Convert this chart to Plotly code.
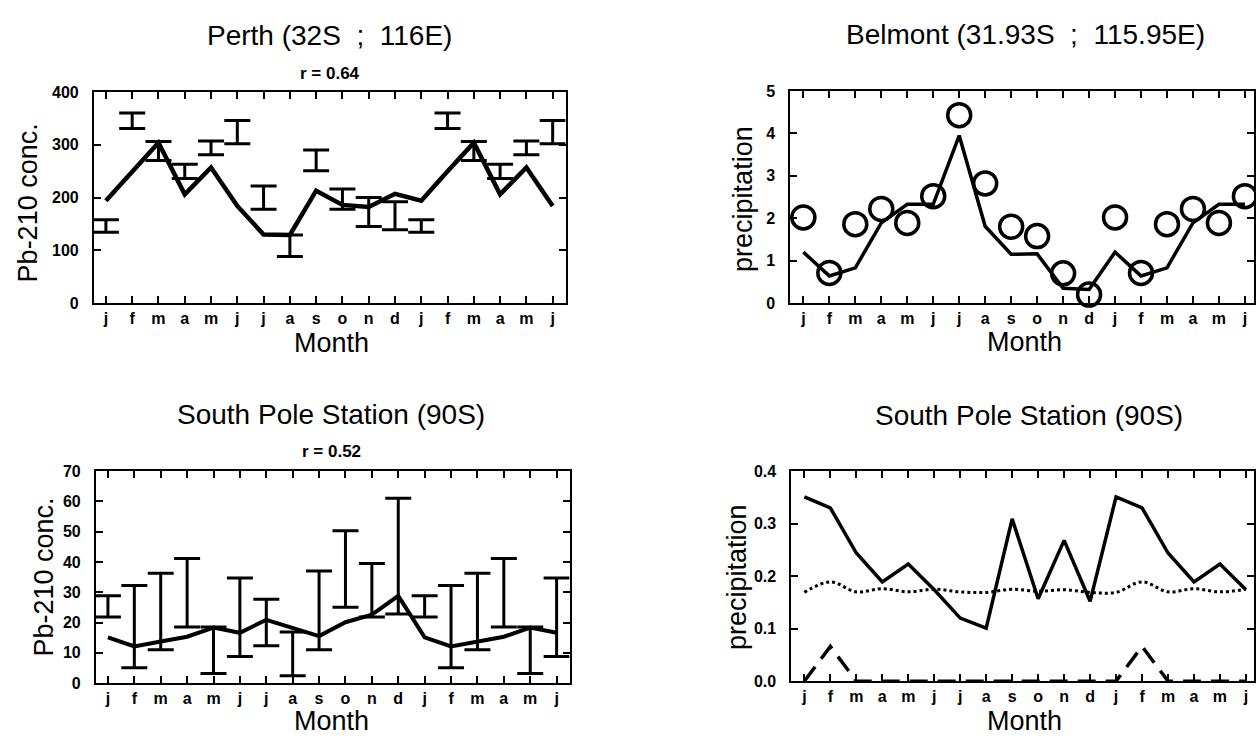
import plotly.graph_objects as go

W, H = 1256, 738
FONT = "Liberation Sans, Arial, Helvetica, sans-serif"

months = ["j", "f", "m", "a", "m", "j", "j", "a", "s", "o", "n", "d",
          "j", "f", "m", "a", "m", "j"]
month_pos = list(range(1, 19))

# Perth Pb-210 (model line + observed range bars)
perth_model = [194, 250, 304, 206, 257, 184, 130, 129, 213, 186, 182, 207,
               194, 250, 304, 206, 257, 184]
perth_low = [134, 331, 270, 236, 281, 302, 178, 88, 251, 178, 145, 139,
             134, 331, 270, 236, 281, 302]
perth_high = [158, 360, 306, 263, 307, 346, 222, 129, 290, 216, 200, 192,
              158, 360, 306, 263, 307, 346]

# Belmont precipitation (observed circles + model line)
belmont_obs = [2.02, 0.71, 1.86, 2.22, 1.89, 2.52, 4.43, 2.82, 1.80, 1.58, 0.70, 0.20,
               2.02, 0.71, 1.86, 2.22, 1.89, 2.52]
belmont_model = [1.20, 0.64, 0.83, 1.89, 2.33, 2.33, 3.95, 1.81, 1.15, 1.16, 0.35, 0.32,
                 1.20, 0.64, 0.83, 1.89, 2.33, 2.33]

# South Pole Pb-210
sp_model = [15.1, 12.1, 13.7, 15.3, 18.3, 16.6, 20.9, 18.2, 15.5, 20.1, 22.6, 28.8,
            15.1, 12.1, 13.7, 15.3, 18.3, 16.6]
sp_low = [21.8, 5.1, 11.0, 18.5, 3.2, 8.8, 12.3, 2.4, 11.0, 25.0, 21.8, 22.8,
          21.8, 5.1, 11.0, 18.5, 3.2, 8.8]
sp_high = [28.8, 32.2, 36.3, 41.1, 18.5, 34.7, 27.7, 16.9, 37.0, 50.3, 39.5, 61.0,
           28.8, 32.2, 36.3, 41.1, 18.5, 34.7]

# South Pole precipitation
sp_prec_solid = [0.351, 0.330, 0.244, 0.189, 0.223, 0.174, 0.120, 0.101, 0.309, 0.157, 0.268, 0.152,
                 0.351, 0.330, 0.244, 0.189, 0.223, 0.174]
sp_prec_dot = [0.169, 0.189, 0.170, 0.176, 0.170, 0.175, 0.170, 0.169, 0.175, 0.171, 0.174, 0.169,
               0.169, 0.189, 0.170, 0.176, 0.170, 0.175]
sp_prec_dash = [0.0, 0.066, 0.0, 0.0, 0.0, 0.0, 0.0, 0.0, 0.0, 0.0, 0.0, 0.0,
                0.0, 0.066, 0.0, 0.0, 0.0, 0.0]


def fx(p):
    return p / W


def fy(p):
    return 1 - p / H


fig = go.Figure()


def err_trace(xa, ya, low, high, width):
    mid = [(a + b) / 2 for a, b in zip(low, high)]
    up = [b - m for b, m in zip(high, mid)]
    dn = [m - a for a, m in zip(low, mid)]
    return go.Scatter(x=month_pos, y=mid, mode="markers", xaxis=xa, yaxis=ya,
                      marker=dict(size=2, color="rgba(0,0,0,0)"),
                      error_y=dict(type="data", symmetric=False, array=up, arrayminus=dn,
                                   color="black", thickness=3, width=width),
                      showlegend=False, hoverinfo="skip")


# Top-left
fig.add_trace(err_trace("x", "y", perth_low, perth_high, 13))
fig.add_trace(go.Scatter(x=month_pos, y=perth_model, mode="lines", xaxis="x", yaxis="y",
                         line=dict(color="black", width=4.5), showlegend=False))
# Top-right
fig.add_trace(go.Scatter(x=month_pos, y=belmont_model, mode="lines", xaxis="x2", yaxis="y2",
                         line=dict(color="black", width=3.5), showlegend=False, cliponaxis=False))
fig.add_trace(go.Scatter(x=month_pos, y=belmont_obs, mode="markers", xaxis="x2", yaxis="y2",
                         marker=dict(symbol="circle-open", size=23, color="black",
                                     line=dict(width=3.5, color="black")),
                         showlegend=False, cliponaxis=False))
# Bottom-left
fig.add_trace(err_trace("x3", "y3", sp_low, sp_high, 13))
fig.add_trace(go.Scatter(x=month_pos, y=sp_model, mode="lines", xaxis="x3", yaxis="y3",
                         line=dict(color="black", width=4), showlegend=False))
# Bottom-right
fig.add_trace(go.Scatter(x=month_pos, y=sp_prec_solid, mode="lines", xaxis="x4", yaxis="y4",
                         line=dict(color="black", width=3.5), showlegend=False, cliponaxis=False))
fig.add_trace(go.Scatter(x=month_pos, y=sp_prec_dot, mode="lines", xaxis="x4", yaxis="y4",
                         line=dict(color="black", width=3, dash="dot", shape="spline"),
                         showlegend=False, cliponaxis=False))
fig.add_trace(go.Scatter(x=month_pos, y=sp_prec_dash, mode="lines", xaxis="x4", yaxis="y4",
                         line=dict(color="black", width=3.5, dash="18px,10px"),
                         showlegend=False, cliponaxis=False))

tickfont = dict(family=FONT, size=16, color="black", weight="bold")


def xax(x0, x1, rng, anchor):
    return dict(domain=[fx(x0), fx(x1)], range=rng, anchor=anchor,
                tickvals=month_pos, ticktext=months, tickfont=tickfont,
                ticks="inside", ticklen=7, tickwidth=2, tickcolor="black",
                showline=True, linewidth=2, linecolor="black", mirror="ticks",
                showgrid=False, zeroline=False, fixedrange=True)


def yax(y0, y1, rng, dtick, anchor, fmt=None, standoff=10):
    d = dict(domain=[fy(y1), fy(y0)], range=rng, anchor=anchor, dtick=dtick,
             tick0=0, tickfont=tickfont,
             ticks="inside", ticklen=7, tickwidth=2, tickcolor="black",
             showline=True, linewidth=2, linecolor="black", mirror="ticks",
             showgrid=False, zeroline=False, fixedrange=True,
             ticklabelstandoff=standoff)
    if fmt:
        d["tickformat"] = fmt
    return d


fig.update_layout(
    width=W, height=H,
    margin=dict(l=0, r=0, t=0, b=0),
    paper_bgcolor="white", plot_bgcolor="white",
    xaxis=xax(94, 566, [0.544, 18.49], "y"),
    yaxis=yax(86, 302, [0, 400], 100, "x"),
    xaxis2=xax(791, 1255, [0.5, 18.35], "y2"),
    yaxis2=yax(85, 302, [0, 5], 1, "x2"),
    xaxis3=xax(96, 570, [0.545, 18.49], "y3"),
    yaxis3=yax(474, 691, [0, 70], 10, "x3"),
    xaxis4=xax(792, 1255, [0.5, 18.31], "y4"),
    yaxis4=yax(474, 689, [0, 0.4], 0.1, "x4", fmt=".1f"),
)

NB = "\u00a0"
anns = [
    ("Perth (32S " + NB + ";" + NB + " 116E)", 330, 28, 28, 0, "normal"),
    ("r = 0.64", 330, 67, 17, 0, "bold"),
    ("Belmont (31.93S " + NB + ";" + NB + " 115.95E)", 1026, 27, 28, 0, "normal"),
    ("South Pole Station (90S)", 331, 416, 28, 0, "normal"),
    ("r = 0.52", 332, 454, 17, 0, "bold"),
    ("South Pole Station (90S)", 1030, 417, 28, 0, "normal"),
    ("Month", 332, 343, 27, 0, "normal"),
    ("Month", 1025, 342, 27, 0, "normal"),
    ("Month", 332, 730, 27, 0, "normal"),
    ("Month", 1025, 730, 27, 0, "normal"),
    ("Pb-210 conc.", 28, 199, 27, -90, "normal"),
    ("Pb-210 conc.", 44, 582, 27, -90, "normal"),
    ("precipitation", 743, 195, 27, -90, "normal"),
    ("precipitation", 737, 582, 27, -90, "normal"),
]
for text, x, y, size, ang, wt in anns:
    fig.add_annotation(text=text, x=fx(x), y=fy(y), xref="paper", yref="paper",
                       xanchor="center", yanchor="middle", showarrow=False,
                       textangle=ang,
                       font=dict(family=FONT, size=size, color="black", weight=wt))

fig.write_html("out.html")
